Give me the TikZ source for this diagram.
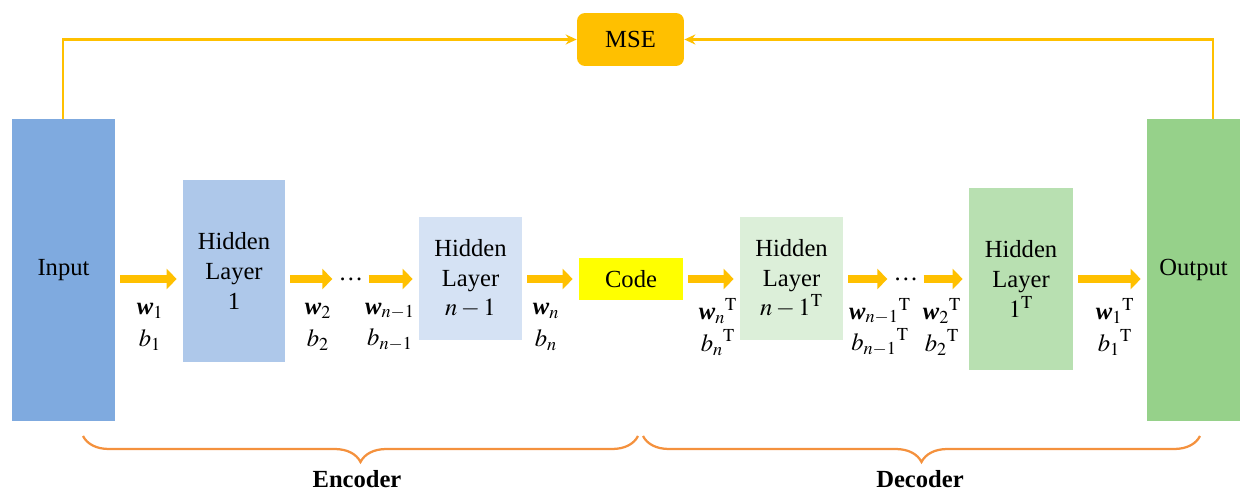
\documentclass[tikz,border=0pt]{standalone}
\usepackage{amsmath}
\usepackage{mathptmx}
\usepackage[no-math]{fontspec}
\setmainfont{Liberation Serif}
\usetikzlibrary{arrows.meta,decorations.pathreplacing}
\definecolor{inblue}{HTML}{7FAADF}
\definecolor{hblue}{HTML}{AEC8EA}
\definecolor{hblueL}{HTML}{D5E2F4}
\definecolor{hgreenL}{HTML}{DCEFD9}
\definecolor{hgreen}{HTML}{B8E0B1}
\definecolor{outgreen}{HTML}{96D18A}
\definecolor{gold}{HTML}{FFC000}
\definecolor{codeyel}{HTML}{FFFF00}
\definecolor{braceor}{HTML}{F4913D}
\newcommand{\wv}{\textbf{\textit{w}}}
\newcommand{\tp}{\mathrm{T}}
\begin{document}
\begin{tikzpicture}[x=0.02cm,y=-0.02cm,
    font=\fontsize{14}{17}\selectfont,
    layer/.style={align=center,inner sep=0pt},
    fat/.style={gold,line width=0.18cm,-{Triangle[length=0.2cm,width=0.4cm]},
        shorten <=0.1cm,shorten >=0.12cm},
    fb/.style={gold,line width=0.045cm,-{Stealth[length=0.22cm,width=0.2cm]}},
    brc/.style={braceor,line width=0.045cm,decorate,
        decoration={brace,mirror,amplitude=0.52cm}},
    wb/.style={align=center,font=\fontsize{14}{18}\selectfont}]
\useasboundingbox (0,0) rectangle (1240,493);
% boxes
\node[layer,fill=inblue,minimum width=2.06cm,minimum height=6.04cm] (in) at (63.5,270) {Input};
\node[layer,fill=hblue,minimum width=2.04cm,minimum height=3.64cm] (h1) at (234,271) {Hidden\\Layer\\1};
\node[layer,fill=hblueL,minimum width=2.06cm,minimum height=2.46cm] (hn) at (470.5,278.5) {Hidden\\Layer\\$n-1$};
\node[layer,fill=codeyel,minimum width=2.08cm,minimum height=0.84cm] (code) at (631,279) {Code};
\node[layer,fill=hgreenL,minimum width=2.06cm,minimum height=2.46cm] (dn) at (791.5,278.5) {Hidden\\Layer\\$n-1^{\tp}$};
\node[layer,fill=hgreen,minimum width=2.08cm,minimum height=3.64cm] (d1) at (1021,279) {Hidden\\Layer\\$1^{\tp}$};
\node[layer,fill=outgreen,minimum width=1.86cm,minimum height=6.04cm] (out) at (1193.5,270) {Output};
\node[layer,fill=gold,rounded corners=0.16cm,minimum width=2.14cm,minimum height=1.06cm] (mse) at (630.5,39.5) {MSE};
\node[inner sep=0pt] (dots1) at (351,279) {\dots};
\node[inner sep=0pt] (dots2) at (906,279) {\dots};

% forward arrows
\draw[fat] (in.east|-code) -- (h1.west|-code);
\draw[fat] (h1.east|-code) -- (dots1.west);
\draw[fat] (dots1.east) -- (hn.west|-code);
\draw[fat] (hn.east|-code) -- (code.west);
\draw[fat] (code.east) -- (dn.west|-code);
\draw[fat] (dn.east|-code) -- (dots2.west);
\draw[fat] (dots2.east) -- (d1.west|-code);
\draw[fat] (d1.east|-code) -- (out.west|-code);

% weights and biases
\foreach \x/\w/\b in {150/{\wv_1}/{b_1},318/{\wv_2}/{b_2},390/{\wv_{n-1}}/{b_{n-1}},546/{\wv_n}/{b_n},
    718/{{\wv_n}^{\tp}}/{{b_n}^{\tp}},880/{{\wv_{n-1}}^{\tp}}/{{b_{n-1}}^{\tp}},
    942/{{\wv_2}^{\tp}}/{{b_2}^{\tp}},1115/{{\wv_1}^{\tp}}/{{b_1}^{\tp}}}
{
    \node[wb] at (\x,327) {$\w$\\$\b$};
}

% loss
\draw[fb] ([xshift=-0.01cm]in.north) |- (mse.west);
\draw[fb] ([xshift=0.39cm]out.north) |- (mse.east);

% encoder / decoder
\draw[brc] (83,436) -- (638,436);
\draw[brc] (643,436) -- (1200,436);
\node at (357,479) {\textbf{Encoder}};
\node at (920,479) {\textbf{Decoder}};
\end{tikzpicture}
\end{document}
